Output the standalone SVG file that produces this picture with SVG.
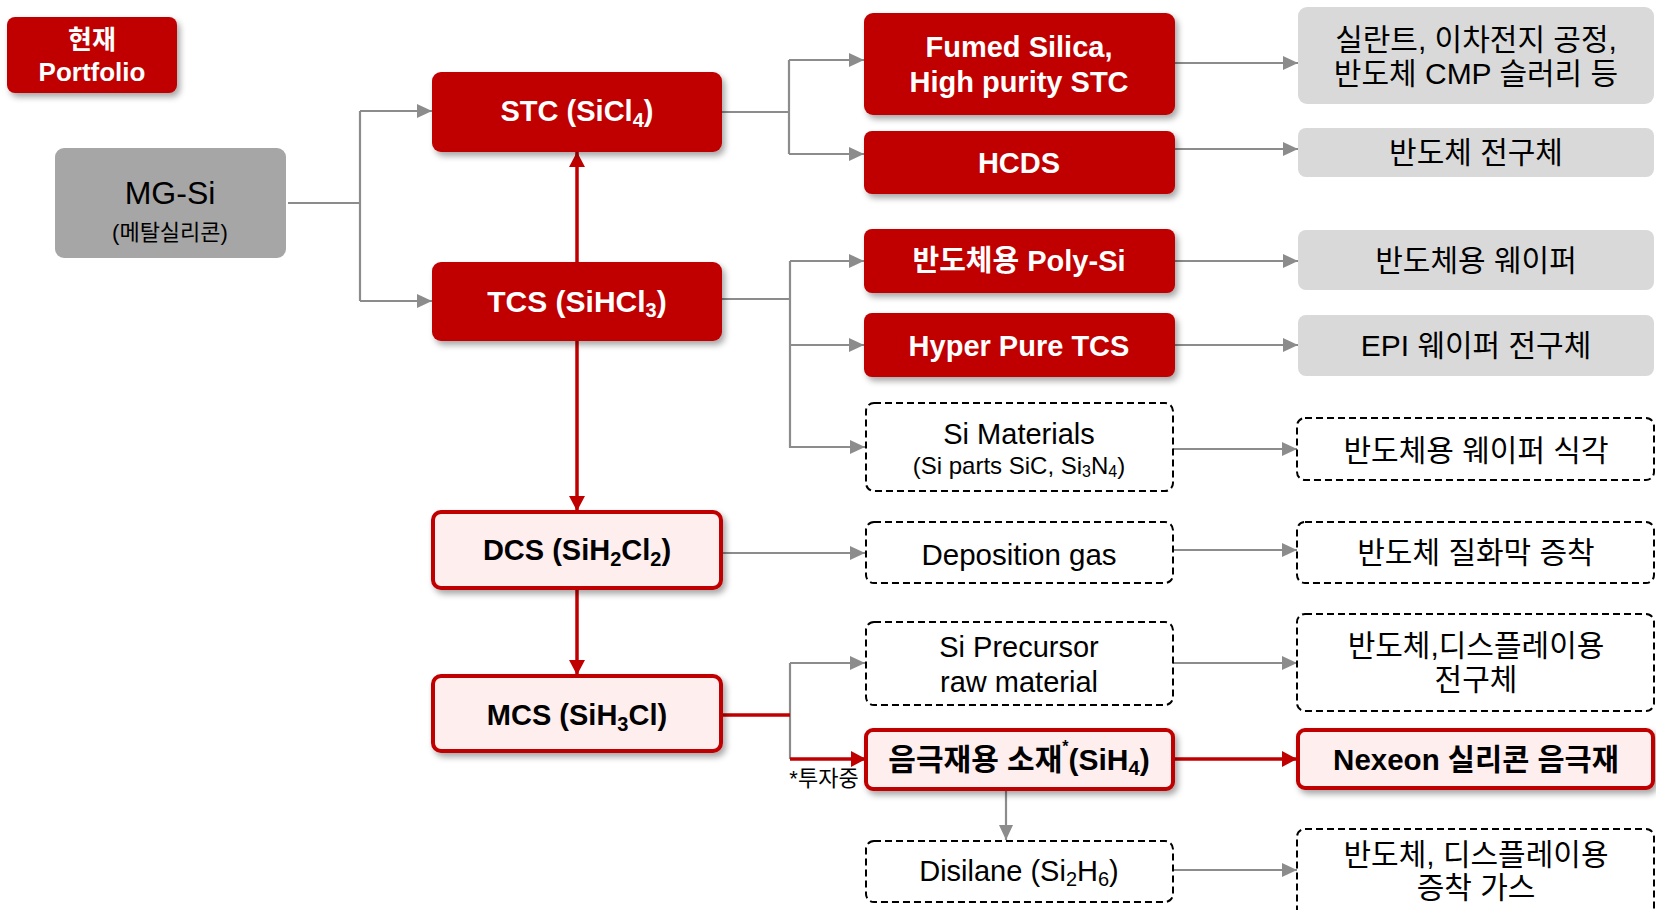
<svg xmlns="http://www.w3.org/2000/svg" width="1656" height="910" viewBox="0 0 1656 910">
<style>
text{font-family:"Liberation Sans","Noto Sans CJK KR",sans-serif;text-anchor:middle;dominant-baseline:central}
.red{fill:#C00000}
.pink{fill:#FFEEEE;stroke:#C00000;stroke-width:4}
.gbox{fill:#D9D9D9}
.dash{fill:#fff;stroke:#000;stroke-width:2;stroke-dasharray:7 4}
.w{fill:#fff;font-weight:bold}
.b{fill:#000;font-weight:bold}
.n{fill:#000}
.gl{fill:none;stroke:#8C8C8C;stroke-width:2.2}
.rl{fill:none;stroke:#C00000;stroke-width:3.5}
</style>
<defs>
<filter id="sh" x="-10%" y="-10%" width="130%" height="140%">
<feDropShadow dx="3" dy="4" stdDeviation="3" flood-color="#000" flood-opacity="0.35"/>
</filter>
<marker id="ga" markerUnits="userSpaceOnUse" markerWidth="16" markerHeight="16" refX="15" refY="7" orient="auto">
<path d="M0,0 L15,7 L0,14 Z" fill="#8C8C8C"/>
</marker>
<marker id="ra" markerUnits="userSpaceOnUse" markerWidth="17" markerHeight="17" refX="15" refY="8" orient="auto">
<path d="M0,0 L15,8 L0,16 Z" fill="#C00000"/>
</marker>
</defs>

<g id="connectors">
<path class="gl" d="M288,203 H360 M360,111 V301"/>
<path class="gl" d="M360,111 H432" marker-end="url(#ga)"/>
<path class="gl" d="M360,301 H432" marker-end="url(#ga)"/>
<path class="gl" d="M722,112 H789 M789,60 V154"/>
<path class="gl" d="M789,60 H864" marker-end="url(#ga)"/>
<path class="gl" d="M789,154 H864" marker-end="url(#ga)"/>
<path class="gl" d="M722,299 H790 M790,261 V448"/>
<path class="gl" d="M790,261 H864" marker-end="url(#ga)"/>
<path class="gl" d="M790,345 H864" marker-end="url(#ga)"/>
<path class="gl" d="M790,447 H865" marker-end="url(#ga)"/>
<path class="gl" d="M722,553 H865" marker-end="url(#ga)"/>
<path class="gl" d="M790,663 V759"/>
<path class="gl" d="M790,663 H865" marker-end="url(#ga)"/>
<path class="gl" d="M1006,791 V840" marker-end="url(#ga)"/>
<path class="gl" d="M1175,63 H1298" marker-end="url(#ga)"/>
<path class="gl" d="M1175,149 H1298" marker-end="url(#ga)"/>
<path class="gl" d="M1175,261 H1298" marker-end="url(#ga)"/>
<path class="gl" d="M1175,345 H1298" marker-end="url(#ga)"/>
<path class="gl" d="M1173,449 H1297" marker-end="url(#ga)"/>
<path class="gl" d="M1173,550 H1297" marker-end="url(#ga)"/>
<path class="gl" d="M1173,663 H1297" marker-end="url(#ga)"/>
<path class="gl" d="M1173,870 H1297" marker-end="url(#ga)"/>
<path class="rl" d="M577,262 V152" marker-end="url(#ra)"/>
<path class="rl" d="M577,341 V511" marker-end="url(#ra)"/>
<path class="rl" d="M577,589 V675" marker-end="url(#ra)"/>
<path class="rl" d="M722,715 H790"/>
<path class="rl" d="M790,759 H866" marker-end="url(#ra)"/>
<path class="rl" d="M1173,759 H1297" marker-end="url(#ra)"/>
</g>

<g id="portfolio">
<rect class="red" x="7" y="17" width="170" height="76" rx="8" filter="url(#sh)"/>
<text class="w" x="92" y="40" font-size="26">현재</text>
<text class="w" x="92" y="72" font-size="26">Portfolio</text>
</g>

<g id="mgsi">
<rect x="55" y="148" width="231" height="110" rx="9" fill="#A6A6A6"/>
<text class="n" x="170" y="193" font-size="32">MG-Si</text>
<text class="n" x="170" y="232" font-size="22">(메탈실리콘)</text>
</g>

<g id="stc">
<rect class="red" x="432" y="72" width="290" height="80" rx="9" filter="url(#sh)"/>
<text class="w" x="577" y="111" font-size="29">STC (SiCl<tspan font-size="20" dy="9">4</tspan><tspan dy="-9">)</tspan></text>
</g>

<g id="tcs">
<rect class="red" x="432" y="262" width="290" height="79" rx="9" filter="url(#sh)"/>
<text class="w" x="577" y="301" font-size="30">TCS (SiHCl<tspan font-size="20" dy="9">3</tspan><tspan dy="-9">)</tspan></text>
</g>

<g id="dcs">
<rect class="pink" x="433" y="512" width="288" height="76" rx="8" filter="url(#sh)"/>
<text class="b" x="577" y="550" font-size="29">DCS (SiH<tspan font-size="20" dy="9">2</tspan><tspan dy="-9">Cl</tspan><tspan font-size="20" dy="9">2</tspan><tspan dy="-9">)</tspan></text>
</g>

<g id="mcs">
<rect class="pink" x="433" y="676" width="288" height="75" rx="8" filter="url(#sh)"/>
<text class="b" x="577" y="715" font-size="29">MCS (SiH<tspan font-size="20" dy="9">3</tspan><tspan dy="-9">Cl)</tspan></text>
</g>

<g id="fumed">
<rect class="red" x="864" y="13" width="311" height="102" rx="9" filter="url(#sh)"/>
<text class="w" x="1019" y="47" font-size="29">Fumed Silica,</text>
<text class="w" x="1019" y="82" font-size="29">High purity STC</text>
</g>

<g id="hcds">
<rect class="red" x="864" y="131" width="311" height="63" rx="8" filter="url(#sh)"/>
<text class="w" x="1019" y="163" font-size="29">HCDS</text>
</g>

<g id="polysi">
<rect class="red" x="864" y="229" width="311" height="64" rx="8" filter="url(#sh)"/>
<text class="w" x="1019" y="261" font-size="29">반도체용 Poly-Si</text>
</g>

<g id="hyperpure">
<rect class="red" x="864" y="313" width="311" height="64" rx="8" filter="url(#sh)"/>
<text class="w" x="1019" y="346" font-size="29">Hyper Pure TCS</text>
</g>

<g id="simaterials">
<rect class="dash" x="866" y="403" width="307" height="88" rx="8"/>
<text class="n" x="1019" y="434" font-size="29">Si Materials</text>
<text class="n" x="1019" y="465" font-size="24">(Si parts SiC, Si<tspan font-size="16" dy="6">3</tspan><tspan dy="-6">N</tspan><tspan font-size="16" dy="6">4</tspan><tspan dy="-6">)</tspan></text>
</g>

<g id="deposition">
<rect class="dash" x="866" y="522" width="307" height="61" rx="8"/>
<text class="n" x="1019" y="554" font-size="29.5">Deposition gas</text>
</g>

<g id="precursor">
<rect class="dash" x="866" y="622" width="307" height="83" rx="8"/>
<text class="n" x="1019" y="647" font-size="29">Si Precursor</text>
<text class="n" x="1019" y="682" font-size="29">raw material</text>
</g>

<g id="anode">
<rect class="pink" x="866" y="730" width="307" height="59" rx="7" filter="url(#sh)"/>
<text class="b" x="1019" y="759" font-size="30">음극재용 소재<tspan font-size="16" dy="-13">*</tspan><tspan dy="13">(SiH</tspan><tspan font-size="20" dy="9">4</tspan><tspan dy="-9">)</tspan></text>
<text class="n" x="824" y="778" font-size="22">*투자중</text>
</g>

<g id="disilane">
<rect class="dash" x="866" y="841" width="307" height="61" rx="8"/>
<text class="n" x="1019" y="871" font-size="29">Disilane (Si<tspan font-size="20" dy="8">2</tspan><tspan dy="-8">H</tspan><tspan font-size="20" dy="8">6</tspan><tspan dy="-8">)</tspan></text>
</g>

<g id="out-sealant">
<rect class="gbox" x="1298" y="7" width="356" height="97" rx="9"/>
<text class="n" x="1476" y="39" font-size="30">실란트, 이차전지 공정,</text>
<text class="n" x="1476" y="73" font-size="30">반도체 CMP 슬러리 등</text>
</g>

<g id="out-precursor">
<rect class="gbox" x="1298" y="128" width="356" height="49" rx="8"/>
<text class="n" x="1476" y="152" font-size="30">반도체 전구체</text>
</g>

<g id="out-wafer">
<rect class="gbox" x="1298" y="230" width="356" height="60" rx="8"/>
<text class="n" x="1476" y="260" font-size="30">반도체용 웨이퍼</text>
</g>

<g id="out-epi">
<rect class="gbox" x="1298" y="315" width="356" height="61" rx="8"/>
<text class="n" x="1476" y="345" font-size="30">EPI 웨이퍼 전구체</text>
</g>

<g id="out-etch">
<rect class="dash" x="1297" y="418" width="357" height="62" rx="8"/>
<text class="n" x="1476" y="450" font-size="30">반도체용 웨이퍼 식각</text>
</g>

<g id="out-nitride">
<rect class="dash" x="1297" y="522" width="357" height="61" rx="8"/>
<text class="n" x="1476" y="552" font-size="30">반도체 질화막 증착</text>
</g>

<g id="out-display">
<rect class="dash" x="1297" y="614" width="357" height="97" rx="8"/>
<text class="n" x="1476" y="645" font-size="30">반도체,디스플레이용</text>
<text class="n" x="1476" y="679" font-size="30">전구체</text>
</g>

<g id="out-nexeon">
<rect class="pink" x="1298" y="730" width="355" height="58" rx="7" filter="url(#sh)"/>
<text class="b" x="1476" y="759" font-size="29.5">Nexeon 실리콘 음극재</text>
</g>

<g id="out-deposition">
<rect class="dash" x="1297" y="829" width="357" height="90" rx="8"/>
<text class="n" x="1476" y="854" font-size="30">반도체, 디스플레이용</text>
<text class="n" x="1476" y="887" font-size="30">증착 가스</text>
</g>
</svg>
